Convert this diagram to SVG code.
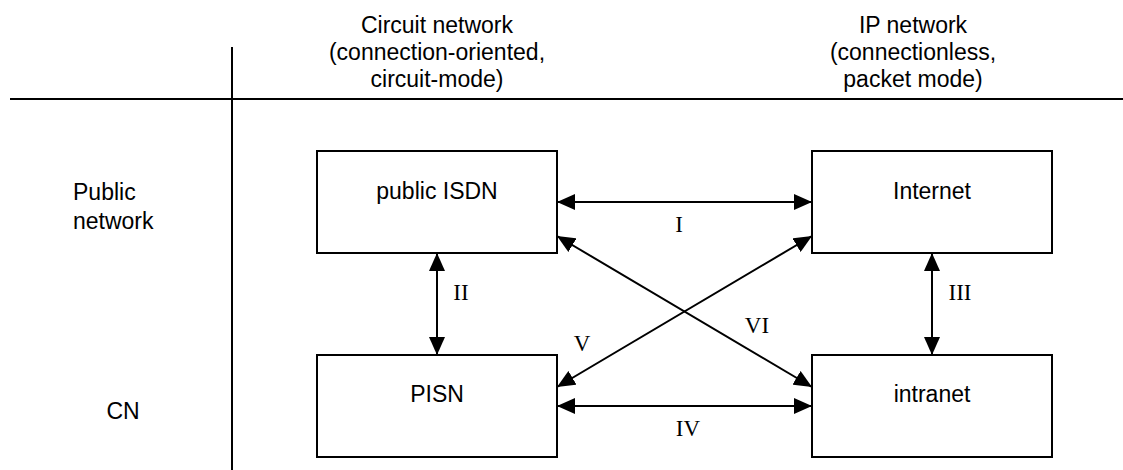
<svg xmlns="http://www.w3.org/2000/svg" width="1123" height="470" viewBox="0 0 1123 470">
<style>
.sans{font-family:"Liberation Sans",Arial,sans-serif;font-size:23px;fill:#000}
.serif{font-family:"Liberation Serif","Times New Roman",serif;font-size:23px;fill:#000}
.box{fill:#fff;stroke:#000;stroke-width:2}
.grid{stroke:#000;stroke-width:2;fill:none}
.conn{stroke:#000;stroke-width:2;fill:none;marker-start:url(#ah);marker-end:url(#ah)}
</style>
<defs>
<marker id="ah" viewBox="0 0 18 16" refX="18" refY="8" markerWidth="18" markerHeight="16" markerUnits="userSpaceOnUse" orient="auto-start-reverse">
<path d="M0,0 L18,8 L0,16 z" fill="#000"/>
</marker>
</defs>
<rect width="1123" height="470" fill="#fff"/>
<g id="grid">
<line class="grid" x1="10" y1="99" x2="1123" y2="99"/>
<line class="grid" x1="232" y1="47" x2="232" y2="470"/>
</g>
<g id="headers" class="sans" text-anchor="middle">
<text x="437" y="33">Circuit network</text>
<text x="437" y="60">(connection-oriented,</text>
<text x="437" y="87">circuit-mode)</text>
<text x="913" y="33">IP network</text>
<text x="913" y="60">(connectionless,</text>
<text x="913" y="87">packet mode)</text>
</g>
<g id="rows" class="sans">
<text x="73" y="200">Public</text>
<text x="73" y="229">network</text>
<text x="123" y="419" text-anchor="middle">CN</text>
</g>
<g id="node-public-isdn">
<rect class="box" x="317" y="151" width="240" height="102"/>
<text class="sans" x="437" y="199" text-anchor="middle">public ISDN</text>
</g>
<g id="node-internet">
<rect class="box" x="812" y="151" width="240" height="102"/>
<text class="sans" x="932" y="199" text-anchor="middle">Internet</text>
</g>
<g id="node-pisn">
<rect class="box" x="317" y="355" width="240" height="102"/>
<text class="sans" x="437" y="402" text-anchor="middle">PISN</text>
</g>
<g id="node-intranet">
<rect class="box" x="812" y="355" width="240" height="102"/>
<text class="sans" x="932" y="402" text-anchor="middle">intranet</text>
</g>
<g id="connectors">
<line class="conn" x1="557" y1="202" x2="812" y2="202"/>
<line class="conn" x1="437" y1="253" x2="437" y2="355"/>
<line class="conn" x1="932" y1="253" x2="932" y2="355"/>
<line class="conn" x1="557" y1="406" x2="812" y2="406"/>
<line class="conn" x1="557" y1="387" x2="812" y2="236"/>
<line class="conn" x1="557" y1="236" x2="812" y2="387"/>
</g>
<g id="connector-labels" class="serif" text-anchor="middle">
<text x="679" y="232">I</text>
<text x="461" y="300">II</text>
<text x="960" y="300">III</text>
<text x="688" y="436">IV</text>
<text x="582" y="351">V</text>
<text x="757" y="333">VI</text>
</g>
</svg>
